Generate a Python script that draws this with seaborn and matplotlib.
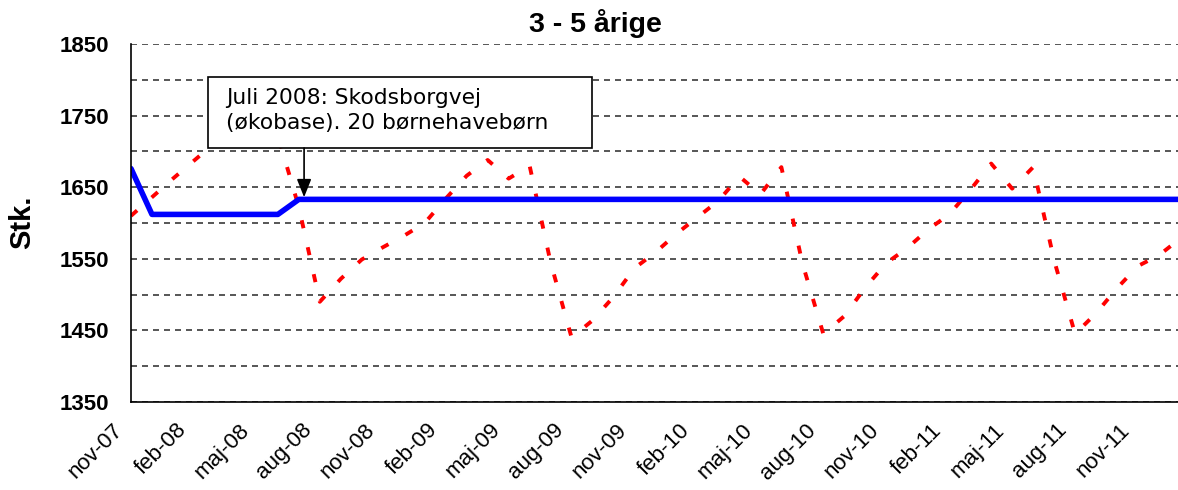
import numpy as np
import pandas as pd
import matplotlib
matplotlib.use('Agg')
import matplotlib.pyplot as plt
import matplotlib.transforms as mtrans
from matplotlib.patches import Rectangle
import seaborn as sns

## data, one value per month from nov-07 to jan-12
boern = [1610, 1636, 1662, 1687, 1712, 1735, 1710, 1722, 1622, 1490,
         1522, 1549, 1566, 1582, 1600, 1634, 1666, 1688, 1662, 1680,
         1545, 1440, 1464, 1497, 1537, 1559, 1585, 1608, 1631, 1665,
         1640, 1678, 1544, 1445, 1470, 1510, 1544, 1565, 1591, 1612,
         1646, 1683, 1648, 1678, 1548, 1445, 1474, 1509, 1540, 1555,
         1578]
kapacitet = [1676, 1612, 1612, 1612, 1612, 1612, 1612, 1612] + [1633] * 43
maaned = list(range(len(boern)))

tickLabels = ['nov-07', 'feb-08', 'maj-08', 'aug-08', 'nov-08', 'feb-09',
              'maj-09', 'aug-09', 'nov-09', 'feb-10', 'maj-10', 'aug-10',
              'nov-10', 'feb-11', 'maj-11', 'aug-11', 'nov-11']
tickPos = list(range(0, 3 * len(tickLabels), 3))

df = pd.DataFrame({'maaned': maaned, 'boern': boern, 'kapacitet': kapacitet})

sns.set_style('white')
plt.rcParams['font.family'] = ['Liberation Sans', 'DejaVu Sans']
plt.rcParams['text.color'] = 'black'
plt.rcParams['xtick.color'] = 'black'
plt.rcParams['ytick.color'] = 'black'

W, H = 1178, 490
fig = plt.figure(figsize=(W / 100, H / 100), dpi=100)
ax = fig.add_axes([131 / W, 88 / H, (W - 131) / W, 358 / H])

## grid first so the lines sit on top
ax.set_axisbelow(True)
ax.set_yticks(np.arange(1350, 1851, 100))
ax.set_yticks(np.arange(1400, 1851, 100), minor=True)
ax.grid(axis='y', which='both', color='#3a3a3a', linewidth=1.2,
        linestyle=(0, (3.6, 3.0)))

sns.lineplot(data=df, x='maaned', y='boern', ax=ax, color='#ff0000',
             linewidth=2.8, linestyle=(0, (2.1, 5.0)))
sns.lineplot(data=df, x='maaned', y='kapacitet', ax=ax, color='#0000ff',
             linewidth=4.0)

ax.set_xlim(0, (W - 131) / 20.98)
ax.set_ylim(1350, 1850)
ax.set_xlabel('')
ax.set_ylabel('')

ax.set_xticks(tickPos)
ax.set_xticklabels(tickLabels, rotation=45, ha='right', va='center',
                   rotation_mode='anchor', fontsize=16)
ax.tick_params(axis='x', length=6.5, width=1.2, pad=5)
## excel puts the rotated labels a bit left of the tick
shift = mtrans.ScaledTranslation(-11 / 100, -9 / 100, fig.dpi_scale_trans)
for lab in ax.get_xticklabels():
    lab.set_transform(lab.get_transform() + shift)

ax.tick_params(axis='y', which='major', length=6.5, width=1.2, pad=9,
               labelsize=16)
ax.tick_params(axis='y', which='minor', length=0)
for lab in ax.get_yticklabels():
    lab.set_fontweight('bold')

for side in ['top', 'right']:
    ax.spines[side].set_visible(False)
for side in ['left', 'bottom']:
    ax.spines[side].set_color('black')
    ax.spines[side].set_linewidth(1.2)

## annotation box with arrow
ax.add_patch(Rectangle((3.67, 1704.7), 18.3, 99.2, facecolor='white',
                       edgecolor='black', linewidth=1.2, zorder=5))
ax.text(4.55, 1757, 'Juli 2008: Skodsborgvej\n(økobase). 20 børnehavebørn',
        family='DejaVu Sans', fontsize=15.7, ha='left', va='center',
        linespacing=1.3, zorder=6)
ax.annotate('', xy=(8.25, 1636), xytext=(8.25, 1704.7),
            arrowprops=dict(arrowstyle='-|>,head_length=0.5,head_width=0.2',
                            color='black', lw=1.2, mutation_scale=22,
                            shrinkA=0, shrinkB=0),
            zorder=6)

fig.text(595 / W, 1 - 23 / H, '3 - 5 årige', ha='center', va='center',
         fontsize=20.5, fontweight='bold')
fig.text(22 / W, 1 - 222 / H, 'Stk.', ha='center', va='center',
         rotation=90, fontsize=21, fontweight='bold')

plt.savefig('out.png', dpi=100)
